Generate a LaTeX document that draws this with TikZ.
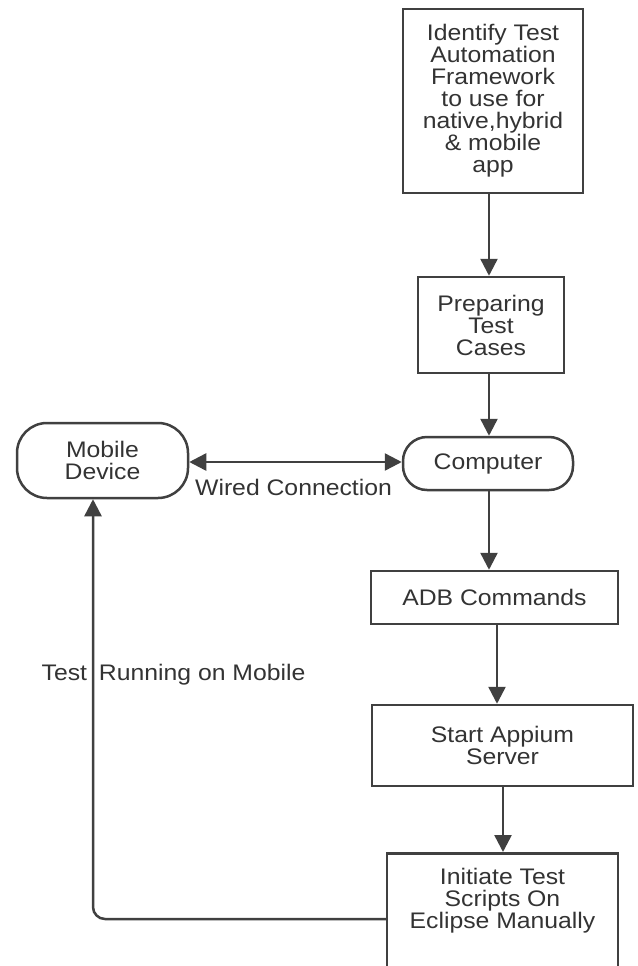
\documentclass[tikz,border=0pt]{standalone}
\usepackage{fontspec}
\setmainfont{Liberation Sans}[FakeStretch=1.1]
\usetikzlibrary{arrows.meta}
\definecolor{ln}{HTML}{404040}
\definecolor{tx}{HTML}{333333}
\begin{document}
\begin{tikzpicture}[x=1pt,y=1pt,
  every node/.style={font=\fontsize{22.5}{22}\selectfont, text=tx},
  box/.style={draw=ln, line width=2.5pt, align=center, inner sep=0pt},
  pill/.style={box, rounded corners=#1},
  arr/.style={draw=ln, line width=2.5pt, -{Triangle[length=17pt,width=17pt]}},
  dbl/.style={draw=ln, line width=2.5pt, {Triangle[length=17pt,width=17pt]}-{Triangle[length=17pt,width=17pt]}},
  lbl/.style={inner sep=0pt, align=center}]
\clip (0,0) rectangle (637,-966);
\fill[white] (0,0) rectangle (637,-966);
\node[box, minimum width=180pt, minimum height=184pt] (b1) at (493,-101)
  {Identify Test\\Automation\\Framework\\to use for\\native,hybrid\\\& mobile\\app};
\node[box, minimum width=146pt, minimum height=96pt] (b2) at (491,-325)
  {Preparing\\Test\\Cases};
\node[pill=24pt, minimum width=170pt, minimum height=53pt] (comp) at (488,-463.5) {Computer};
\node[pill=30pt, minimum width=171pt, minimum height=75pt] (mob) at (102.5,-460.5) {Mobile\\Device};
\node[box, minimum width=247pt, minimum height=53pt] (adb) at (494.5,-597.5) {ADB Commands};
\node[box, minimum width=261pt, minimum height=81pt] (start) at (502.5,-745.5) {Start Appium\\Server};
\node[box, minimum width=231pt, minimum height=160pt, anchor=north] (init) at (502.5,-852) {};
\node[lbl] (initt) at ([yshift=-49pt]init.north) {Initiate Test\\Scripts On\\Eclipse Manually};
\node[lbl] (wired) at (293.5,-487) {Wired Connection};
\node[lbl] (run) at (173.5,-675) {Test\hspace{12pt}Running on Mobile};
\coordinate (a1) at (489,0);
\coordinate (a2) at (497,0);
\coordinate (a3) at (503,0);
\coordinate (lw) at (0,-462);
\coordinate (lp) at (0,-919);
\coordinate (lx) at (93,0);
\draw[arr] (a1 |- b1.south) -- (a1 |- b2.north);
\draw[arr] (a1 |- b2.south) -- (a1 |- comp.north);
\draw[arr] (a1 |- comp.south) -- (a1 |- adb.north);
\draw[arr] (a2 |- adb.south) -- (a2 |- start.north);
\draw[arr] (a3 |- start.south) -- (a3 |- init.north);
\draw[dbl] (mob.east |- lw) -- (comp.west |- lw);
\draw[arr, rounded corners=12pt] (init.west |- lp) -- (lx |- lp) -- (lx |- mob.south);
\end{tikzpicture}
\end{document}
